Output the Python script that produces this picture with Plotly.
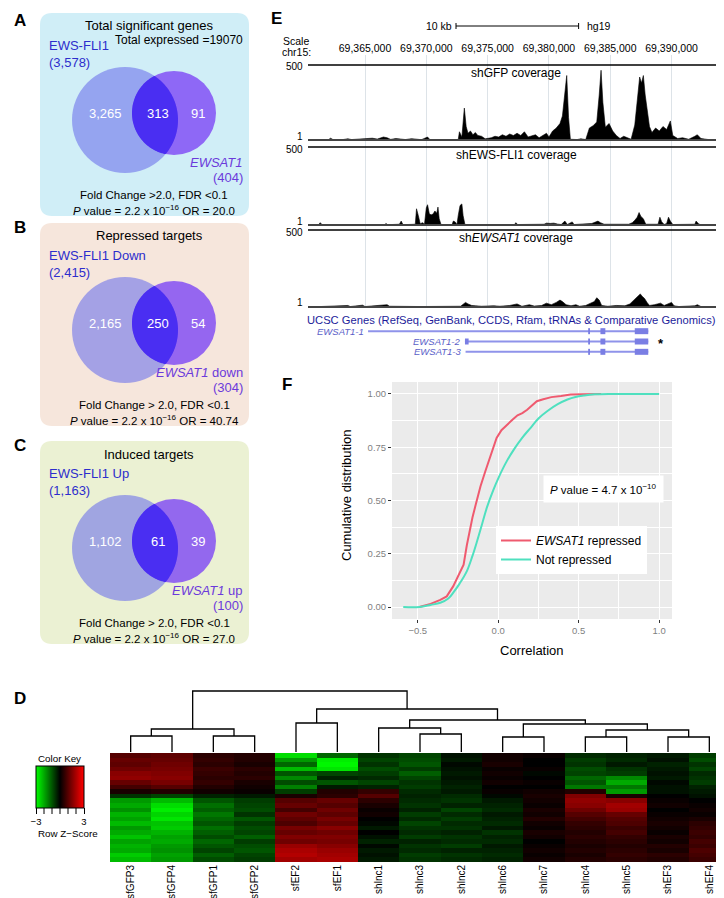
import numpy as np
import plotly.graph_objects as go

W, H = 724, 898
FONT = 'Liberation Sans, Arial, sans-serif'

# =============================================================================
# DATA
# =============================================================================

# --- A-C: Venn panels ---
VENN_TITLES = ['Total significant genes', 'Repressed targets', 'Induced targets']
VENN_LEFT_LABELS = ['EWS-FLI1', 'EWS-FLI1 Down', 'EWS-FLI1 Up']
VENN_LEFT_TOTALS = ['(3,578)', '(2,415)', '(1,163)']
VENN_RIGHT_LABELS = ['<i>EWSAT1</i>', '<i>EWSAT1</i> down', '<i>EWSAT1</i> up']
VENN_RIGHT_TOTALS = ['(404)', '(304)', '(100)']
VENN_ONLY_LEFT = ['3,265', '2,165', '1,102']
VENN_BOTH = ['313', '250', '61']
VENN_ONLY_RIGHT = ['91', '54', '39']
VENN_FC = ['Fold Change >2.0, FDR <0.1', 'Fold Change > 2.0, FDR <0.1',
           'Fold Change > 2.0, FDR <0.1']
VENN_OR = ['20.0', '40.74', '27.0']
VENN_PVAL = '2.2 x 10<sup>−16</sup>'
TOTAL_EXPRESSED = 'Total expressed =19070'

# --- E: coverage tracks (chr15 position in kb, coverage) ---
CHR_TICKS = [69365, 69370, 69375, 69380, 69385, 69390]
CHR_TICK_LABELS = ['69,365,000', '69,370,000', '69,375,000', '69,380,000',
                   '69,385,000', '69,390,000']
CHR_RANGE = [69360.35, 69394.93]
SCALE_START, SCALE_KB = 69372.42, 10

GFP_POS = [69360.4, 69362.0, 69362.2, 69362.4, 69363.2, 69363.6, 69363.9, 69364.5, 69364.8,
           69365.2, 69365.6, 69366.0, 69366.5, 69366.8, 69367.1, 69367.5, 69367.9, 69368.3,
           69368.8, 69369.2, 69369.6, 69370.1, 69370.3, 69372.6, 69372.7, 69372.9, 69373.1,
           69373.25, 69373.4, 69373.6, 69373.8, 69374.0, 69374.2, 69374.5, 69374.8, 69375.3,
           69375.6, 69375.9, 69376.2, 69376.5, 69376.8, 69377.1, 69377.4, 69377.7, 69378.0,
           69378.3, 69378.6, 69378.9, 69379.2, 69379.5, 69379.8, 69380.0, 69380.3, 69380.6,
           69380.9, 69381.1, 69381.3, 69381.45, 69381.6, 69381.75, 69382.3, 69382.6, 69383.0,
           69383.3, 69383.6, 69383.9, 69384.1, 69384.25, 69384.4, 69384.6, 69384.9, 69385.2,
           69385.5, 69385.8, 69386.1, 69386.4, 69386.7, 69387.0, 69387.2, 69387.4, 69387.55,
           69387.7, 69387.85, 69388.0, 69388.2, 69388.4, 69388.7, 69389.0, 69389.3, 69389.6,
           69389.9, 69390.1, 69390.5, 69390.9, 69391.4, 69391.9, 69392.1, 69392.4, 69393.0,
           69394.9]
GFP_COV = [2, 2, 12, 2, 3, 8, 3, 6, 10,
           8, 12, 6, 20, 15, 4, 10, 8, 3,
           9, 6, 2, 20, 2, 2, 55, 20, 213,
           90, 45, 60, 35, 50, 30, 25, 8, 15,
           25, 20, 35, 25, 40, 30, 45, 30, 55,
           20, 25, 35, 15, 30, 45, 20, 60, 80,
           110, 160, 300, 430, 150, 5, 3, 8, 3,
           80, 95, 120, 300, 465, 250, 85, 110, 60,
           30, 10, 25, 15, 5, 100, 260, 420, 380,
           430, 300, 200, 90, 50, 80, 60, 90, 70,
           127, 30, 10, 15, 5, 25, 35, 10, 3,
           2]

EF_POS = [69360.4, 69361.2, 69361.35, 69361.5, 69366.6, 69366.7, 69366.85, 69367.8, 69367.95,
          69368.1, 69369.1, 69369.2, 69369.35, 69369.5, 69369.7, 69369.85, 69370.0, 69370.1,
          69370.25, 69370.4, 69370.55, 69370.7, 69370.85, 69370.95, 69371.05, 69371.2, 69372.1,
          69372.2, 69372.35, 69372.5, 69372.6, 69372.75, 69372.9, 69373.0, 69373.15, 69377.2,
          69377.3, 69377.45, 69379.6, 69379.8, 69380.1, 69380.4, 69380.7, 69381.0, 69381.3,
          69381.5, 69381.9, 69382.05, 69383.5, 69383.8, 69384.0, 69384.2, 69384.5, 69386.5,
          69386.8, 69387.0, 69387.2, 69387.35, 69387.5, 69387.7, 69387.9, 69388.9, 69389.05,
          69389.2, 69389.4, 69389.6, 69389.75, 69389.9, 69390.1, 69391.9, 69392.0, 69392.2,
          69392.4, 69394.9]
EF_COV = [0, 2, 15, 2, 2, 10, 2, 5, 25,
          2, 5, 104, 60, 8, 15, 5, 110, 130,
          70, 65, 70, 90, 75, 115, 40, 3, 2,
          25, 20, 3, 60, 125, 135, 60, 3, 3,
          15, 3, 5, 12, 10, 12, 6, 3, 25,
          3, 20, 3, 10, 20, 25, 15, 5, 5,
          15, 30, 50, 80, 55, 40, 5, 5, 50,
          20, 3, 10, 50, 25, 3, 5, 25, 8,
          0, 0]

AT_POS = [69360.4, 69362.0, 69363.6, 69363.8, 69364.6, 69364.8, 69365.0, 69366.5, 69366.8,
          69367.0, 69367.5, 69368.5, 69369.5, 69372.8, 69373.0, 69373.2, 69373.4, 69373.7,
          69374.0, 69374.5, 69375.5, 69376.0, 69376.8, 69377.4, 69377.8, 69378.4, 69378.8,
          69379.4, 69379.8, 69380.2, 69380.6, 69380.9, 69381.1, 69381.4, 69381.8, 69382.2,
          69382.5, 69383.0, 69383.4, 69383.7, 69383.9, 69384.1, 69384.3, 69384.8, 69385.5,
          69386.2, 69386.6, 69386.9, 69387.1, 69387.3, 69387.45, 69387.6, 69387.8, 69388.0,
          69388.2, 69388.6, 69389.1, 69389.4, 69389.8, 69390.0, 69390.2, 69390.6, 69391.9,
          69392.1, 69392.4, 69394.9]
AT_COV = [0, 3, 10, 3, 8, 12, 3, 10, 15,
          5, 4, 5, 3, 5, 20, 30, 20, 10,
          8, 5, 8, 5, 10, 20, 5, 15, 6,
          10, 25, 15, 30, 45, 35, 15, 8, 15,
          5, 10, 25, 35, 60, 45, 10, 5, 10,
          8, 20, 45, 60, 75, 85, 70, 55, 30,
          10, 15, 25, 10, 25, 30, 8, 3, 8,
          15, 3, 0]

TRACK_NAMES = ['shGFP coverage', 'shEWS-FLI1 coverage', 'sh<i>EWSAT1</i> coverage']

GENE_NAMES = ['EWSAT1-1', 'EWSAT1-2', 'EWSAT1-3']
GENE_START = [69365.25, 69373.15, 69373.2]
GENE_END = [69388.1, 69388.1, 69388.1]
GENE_EXONS = [
    [(69383.2, 69383.35), (69384.2, 69384.6), (69387.0, 69388.1)],
    [(69373.15, 69373.45), (69383.2, 69383.35), (69384.2, 69384.6), (69387.0, 69388.1)],
    [(69383.2, 69383.35), (69384.2, 69384.6), (69387.0, 69388.1)],
]
STAR_POS = 69389.15

# --- F: cumulative distributions ---
REP_X = [-0.49, -0.42, -0.36, -0.32, -0.28, -0.25, -0.215, -0.195, -0.175, -0.16,
         -0.14, -0.11, -0.08, -0.05, -0.01, 0.02, 0.06, 0.09, 0.12, 0.15,
         0.18, 0.21, 0.24, 0.28, 0.33, 0.39, 0.45, 0.52, 0.58, 0.64]
REP_Y = [0.0, 0.015, 0.034, 0.05, 0.097, 0.144, 0.199, 0.29, 0.37, 0.42,
         0.48, 0.567, 0.637, 0.70, 0.793, 0.83, 0.856, 0.88, 0.90, 0.91,
         0.926, 0.945, 0.966, 0.975, 0.985, 0.99, 0.997, 0.999, 1.0, 1.0]
NOT_X = [-0.59, -0.49, -0.42, -0.36, -0.31, -0.277, -0.24, -0.194, -0.16, -0.131,
         -0.1, -0.069, -0.03, 0.004, 0.05, 0.098, 0.15, 0.2, 0.25, 0.306,
         0.37, 0.43, 0.48, 0.535, 0.6, 0.7, 0.85, 1.0]
NOT_Y = [0.0, 0.0, 0.01, 0.02, 0.04, 0.07, 0.11, 0.17, 0.24, 0.31,
         0.39, 0.47, 0.55, 0.61, 0.68, 0.74, 0.795, 0.84, 0.885, 0.92,
         0.952, 0.974, 0.986, 0.993, 0.998, 1.0, 1.0, 1.0]

# --- D: heatmap and dendrogram ---
HEAT_COLS = ['sfGFP3', 'sfGFP4', 'sfGFP1', 'sfGFP2', 'sfEF2', 'sfEF1', 'shlnc1', 'shlnc3',
             'shlnc2', 'shlnc6', 'shlnc7', 'shlnc4', 'shlnc5', 'shEF3', 'shEF4']
HEAT_Z = [
    [1.0, 1.1, 0.5, 0.4, -2.6, -1.2, -0.6, -0.8, -0.2, 0.2, 0.1, -0.5, -0.4, -0.3, -0.7],
    [1.2, 1.2, 0.6, 0.4, -1.8, -2.8, -0.8, -0.9, -0.3, 0.2, 0.0, -0.7, -0.5, -0.2, -0.9],
    [1.1, 1.3, 0.5, 0.3, -1.2, -2.9, -0.6, -1.0, -0.1, 0.3, 0.0, -0.6, -0.3, -0.4, -0.6],
    [1.3, 1.4, 0.7, 0.5, -2.2, -2.7, -0.9, -0.7, -0.2, 0.1, 0.1, -0.9, -0.6, -0.3, -0.8],
    [1.6, 1.5, 0.6, 0.4, -1.0, -0.8, -0.7, -1.1, -0.3, 0.2, -0.1, -0.8, -0.7, -0.2, -0.5],
    [1.7, 1.6, 0.5, 0.5, -1.6, -0.4, -0.5, -0.8, -0.2, 0.1, 0.0, -1.2, -1.6, -0.3, -0.6],
    [1.2, 1.4, 0.6, 0.3, -0.9, -1.0, -0.8, -0.6, -0.3, 0.2, 0.1, -1.0, -2.0, -0.1, -0.7],
    [0.8, 1.0, 0.4, 0.2, -1.5, -0.3, -0.4, -0.7, -0.4, 0.0, 0.0, -1.4, -1.4, -0.2, -0.4],
    [0.3, 0.4, 0.2, 0.1, -0.7, 0.4, 0.6, -0.5, -0.3, 0.1, 0.2, 0.4, -1.8, -0.2, -0.3],
    [-0.6, -0.8, -0.4, -0.3, 0.3, 0.5, 1.0, -0.4, -0.5, -0.1, 0.3, 1.5, 0.3, 0.0, -0.2],
    [-1.8, -2.2, -1.0, -0.7, 1.0, 1.2, 0.5, -0.5, -0.6, -0.3, 0.2, 1.7, 1.6, 0.1, 0.0],
    [-2.0, -2.6, -1.3, -0.8, 1.2, 1.0, 0.3, -0.6, -0.4, -0.4, 0.1, 1.6, 1.9, 0.2, 0.1],
    [-1.7, -2.8, -1.1, -0.9, 0.8, 1.3, 0.1, -0.4, -0.8, -0.5, 0.3, 1.3, 1.8, 0.0, 0.2],
    [-2.1, -2.5, -1.4, -0.6, 1.3, 1.1, 0.2, -0.7, -0.5, -0.3, 0.2, 1.0, 1.2, 0.1, 0.1],
    [-1.9, -2.7, -1.2, -1.0, 1.1, 1.4, 0.0, -0.5, -0.7, -0.4, 0.4, 0.8, 1.0, 0.2, 0.3],
    [-2.2, -2.3, -1.0, -0.7, 0.9, 1.2, -0.1, -0.8, -0.5, -0.5, 0.2, 0.6, 0.9, 0.3, 0.5],
    [-1.8, -2.4, -1.3, -0.9, 1.4, 1.6, -0.3, -0.6, -0.6, -0.3, 0.1, 0.5, 0.7, 0.2, 0.6],
    [-2.0, -2.1, -1.1, -0.8, 1.2, 1.3, 0.0, -0.5, -0.4, -0.6, 0.3, 0.4, 0.8, 0.1, 0.7],
    [-2.3, -1.9, -0.9, -1.1, 1.5, 1.5, -0.2, -0.7, -0.6, -0.4, 0.2, 0.5, 0.6, 0.3, 0.6],
    [-1.9, -2.0, -1.2, -0.7, 1.3, 1.4, -0.4, -0.4, -0.5, -0.5, 0.0, 0.4, 0.5, 0.2, 0.8],
    [-2.1, -1.8, -1.0, -0.9, 1.8, 1.6, -0.1, -0.6, -0.7, -0.3, 0.1, 0.3, 0.4, 0.4, 0.7],
    [-2.0, -1.7, -0.8, -1.0, 2.0, 1.8, -0.3, -0.5, -0.4, -0.4, 0.2, 0.4, 0.5, 0.3, 0.9],
    [-2.4, -1.9, -1.1, -0.8, 2.1, 1.9, -0.2, -0.7, -0.6, -0.5, 0.1, 0.3, 0.6, 0.5, 0.8],
    [-2.2, -1.8, -0.9, -0.7, 1.9, 2.0, -0.3, -0.6, -0.5, -0.4, 0.2, 0.4, 0.5, 0.4, 0.7],
]
KEY_TICKS = [-3, -2, -1, 0, 1, 2, 3]
# merges: (left, right, height); 'mK' refers to merge K
DENDRO_MERGES = [
    ('sfGFP3', 'sfGFP4', 16), ('sfGFP1', 'sfGFP2', 16), ('m0', 'm1', 23),
    ('sfEF2', 'sfEF1', 29), ('shlnc3', 'shlnc2', 18), ('shlnc1', 'm4', 24),
    ('shlnc6', 'shlnc7', 15), ('shlnc4', 'shlnc5', 15), ('shEF3', 'shEF4', 15),
    ('m7', 'm8', 22), ('m6', 'm9', 28), ('m5', 'm10', 32), ('m3', 'm11', 43),
    ('m2', 'm12', 61),
]


# =============================================================================
# HELPERS (pixel -> paper)
# =============================================================================

def px(x):
    return x / W


def py(y):
    return 1 - y / H


def xdom(left, right):
    return [px(left), px(right)]


def ydom(top, bottom):
    return [py(bottom), py(top)]


shapes = []
annotations = []


def label(x, y, text, size=12, color='black', xanchor='center', **kw):
    annotations.append(dict(
        x=px(x), y=py(y), xref='paper', yref='paper', text=text, showarrow=False,
        xanchor=xanchor, yanchor='middle', font=dict(family=FONT, size=size, color=color), **kw
    ))


def paper_line(x0, y0, x1, y1, color='black', width=1):
    shapes.append(dict(type='line', xref='paper', yref='paper', x0=px(x0), y0=py(y0),
                       x1=px(x1), y1=py(y1), line=dict(color=color, width=width)))


def rounded_box(x0, y0, x1, y1, r, color):
    pts = (f"M {px(x0 + r)},{py(y0)} L {px(x1 - r)},{py(y0)} Q {px(x1)},{py(y0)} {px(x1)},{py(y0 + r)} "
           f"L {px(x1)},{py(y1 - r)} Q {px(x1)},{py(y1)} {px(x1 - r)},{py(y1)} "
           f"L {px(x0 + r)},{py(y1)} Q {px(x0)},{py(y1)} {px(x0)},{py(y1 - r)} "
           f"L {px(x0)},{py(y0 + r)} Q {px(x0)},{py(y0)} {px(x0 + r)},{py(y0)} Z")
    shapes.append(dict(type='path', xref='paper', yref='paper', path=pts,
                       fillcolor=color, line=dict(width=0), layer='below'))


def circle(cx, cy, r, color):
    shapes.append(dict(type='circle', xref='paper', yref='paper', x0=px(cx - r), x1=px(cx + r),
                       y0=py(cy + r), y1=py(cy - r), fillcolor=color, line=dict(width=0),
                       layer='below'))


def lens(c1, r1, c2, r2, color):
    t = np.linspace(0, 2 * np.pi, 361)
    pts = []
    for (ca, ra, cb, rb) in [(c1, r1, c2, r2), (c2, r2, c1, r1)]:
        xs = ca[0] + ra * np.cos(t)
        ys = ca[1] + ra * np.sin(t)
        inside = (xs - cb[0]) ** 2 + (ys - cb[1]) ** 2 <= rb ** 2
        pts += list(zip(xs[inside], ys[inside]))
    pts = np.array(pts)
    cen = pts.mean(axis=0)
    order = np.argsort(np.arctan2(pts[:, 1] - cen[1], pts[:, 0] - cen[0]))
    pts = pts[order]
    path = 'M ' + ' L '.join(f"{px(a)},{py(b)}" for a, b in pts) + ' Z'
    shapes.append(dict(type='path', xref='paper', yref='paper', path=path,
                       fillcolor=color, line=dict(width=0), layer='below'))


fig = go.Figure()

# =============================================================================
# A-C: VENN PANELS
# =============================================================================
BOX_TOPS = [5, 215, 433]
BOX_COLORS = ['#d0eef7', '#f6e6dc', '#ebf1d3']
PANEL_LETTERS = ['A', 'B', 'C']
BLUE = '#2d2dcc'
PURPLE = '#6b3adb'

for i, t in enumerate(BOX_TOPS):
    rounded_box(32, t, 241, t + 203, 12, BOX_COLORS[i])
    label(12, t + 8 if i == 0 else t + 4, f'<b>{PANEL_LETTERS[i]}</b>', size=17)
    big_c, big_r = (117, t + 107), 53
    small_c, small_r = (166, t + 100), 42
    circle(big_c[0], big_c[1], big_r, 'rgba(110,115,235,0.6)')
    circle(small_c[0], small_c[1], small_r, 'rgba(125,70,245,0.8)')
    lens(big_c, big_r, small_c, small_r, '#4a2ef2')

    label(141, t + 13, VENN_TITLES[i], size=13)
    if i == 0:
        label(237, t + 27, TOTAL_EXPRESSED, size=12, xanchor='right')
    label(39, t + 32, VENN_LEFT_LABELS[i], size=13, color=BLUE, xanchor='left')
    label(39, t + 49, VENN_LEFT_TOTALS[i], size=13, color=BLUE, xanchor='left')
    label(98, t + 100, VENN_ONLY_LEFT[i], size=13, color='white')
    label(150, t + 100, VENN_BOTH[i], size=13, color='white')
    label(190, t + 100, VENN_ONLY_RIGHT[i], size=13, color='white')
    label(237, t + 149, VENN_RIGHT_LABELS[i], size=13, color=PURPLE, xanchor='right')
    label(237, t + 164, VENN_RIGHT_TOTALS[i], size=13, color=PURPLE, xanchor='right')
    label(146, t + 182, VENN_FC[i], size=11.5)
    label(146, t + 197, f'<i>P</i> value = {VENN_PVAL} OR = {VENN_OR[i]}', size=11.5)

# =============================================================================
# E: GENOME BROWSER TRACKS
# =============================================================================
label(268, 10, '<b>E</b>', size=17)
label(446, 18, '10 kb', size=10.5, xanchor='right')
shapes.append(dict(type='line', xref='x', yref='paper', x0=SCALE_START, x1=SCALE_START + SCALE_KB,
                   y0=py(18), y1=py(18), line=dict(color='black', width=1)))
for xe in (SCALE_START, SCALE_START + SCALE_KB):
    shapes.append(dict(type='line', xref='x', yref='paper', x0=xe, x1=xe,
                       y0=py(15), y1=py(21), line=dict(color='black', width=1)))
label(577, 18, 'hg19', size=10.5, xanchor='left')
label(288, 33, 'Scale', size=10.5)
label(288, 44, 'chr15:', size=10.5)

# helper subplot: grid lines and coordinate labels
fig.add_trace(go.Scatter(x=[CHR_RANGE[0]], y=[0], mode='markers', marker=dict(opacity=0),
                         xaxis='x', yaxis='y', showlegend=False, hoverinfo='skip'))

TRACKS = [(GFP_POS, GFP_COV, 57, 132), (EF_POS, EF_COV, 139, 217), (AT_POS, AT_COV, 222, 299)]
for k, (pos, cov, top, base) in enumerate(TRACKS):
    yname = f'y{k + 2}'
    fig.add_trace(go.Scatter(
        x=pos, y=cov, mode='lines', fill='tozeroy', fillcolor='black',
        line=dict(color='black', width=0.6), xaxis='x', yaxis=yname,
        showlegend=False, hoverinfo='skip'
    ))
    paper_line(300, top, 724, top, color='black', width=1.3)
    paper_line(300, base, 724, base, color='#444444', width=2)
    label(297, top + 2, '500', size=10, xanchor='right')
    label(297, base - 4, '1', size=10, xanchor='right')
    label(508, top + 8, TRACK_NAMES[k], size=12)

# gene track
label(297, 312, 'UCSC Genes (RefSeq, GenBank, CCDS, Rfam, tRNAs &amp; Comparative Genomics)',
      size=11.2, color='#1c1c9a', xanchor='left')
for g, name in enumerate(GENE_NAMES):
    fig.add_trace(go.Scatter(
        x=[GENE_START[g], GENE_END[g]], y=[g + 1, g + 1], mode='lines',
        line=dict(color='#8f93ea', width=2), xaxis='x2', yaxis='y5',
        showlegend=False, hoverinfo='skip'
    ))
    ex, ey = [], []
    for a, b in GENE_EXONS[g]:
        ex += [a, b, None]
        ey += [g + 1, g + 1, None]
    fig.add_trace(go.Scatter(
        x=ex, y=ey, mode='lines', line=dict(color='#7a7ee4', width=6),
        xaxis='x2', yaxis='y5', showlegend=False, hoverinfo='skip'
    ))
    annotations.append(dict(x=GENE_START[g], y=g + 1, xref='x2', yref='y5',
                            text=f'<i>{name}</i>', showarrow=False, xanchor='right',
                            yanchor='middle', xshift=-3, borderpad=0,
                            font=dict(family=FONT, size=9.5, color='#5a5ec8')))
annotations.append(dict(x=STAR_POS, y=2, xref='x2', yref='y5', text='<b>*</b>', showarrow=False,
                        yshift=-2, font=dict(family=FONT, size=13, color='black')))

# =============================================================================
# F: CUMULATIVE DISTRIBUTION
# =============================================================================
label(279, 376, '<b>F</b>', size=17)
shapes.append(dict(type='rect', xref='x3 domain', yref='y6 domain', x0=0, x1=1, y0=0, y1=1,
                   fillcolor='#ebebeb', line=dict(width=0), layer='below'))
fig.add_trace(go.Scatter(
    x=REP_X, y=REP_Y, mode='lines', name='<i>EWSAT1</i> repressed',
    line=dict(color='#ef5a6f', width=2), xaxis='x3', yaxis='y6'
))
fig.add_trace(go.Scatter(
    x=NOT_X, y=NOT_Y, mode='lines', name='Not repressed', line_shape='spline',
    line=dict(color='#4fe0bf', width=2), xaxis='x3', yaxis='y6'
))
label(338, 487, 'Cumulative distribution', size=13, textangle=-90)
label(524, 642, 'Correlation', size=13)
annotations.append(dict(x=px(595), y=py(481), xref='paper', yref='paper', xanchor='center',
                        yanchor='middle', text='<i>P</i> value = 4.7 x 10<sup>−10</sup>',
                        showarrow=False, bgcolor='white', borderpad=6,
                        font=dict(family=FONT, size=11.5, color='black')))

# =============================================================================
# D: HEATMAP + DENDROGRAM
# =============================================================================
label(12, 690, '<b>D</b>', size=17)
KEY_X0, KEY_W, KEY_TOP, KEY_H = 28, 48, 758, 42
fig.add_trace(go.Heatmap(
    z=HEAT_Z, x=HEAT_COLS, y=list(range(len(HEAT_Z))), xaxis='x4', yaxis='y7',
    zmin=-3, zmax=3, colorscale=[[0, '#00ff00'], [0.5, '#000000'], [1, '#ff0000']],
    hoverinfo='skip',
    colorbar=dict(
        orientation='h', x=px(KEY_X0), xanchor='left', y=py(KEY_TOP), yanchor='top',
        len=KEY_W, lenmode='pixels', thickness=KEY_H, thicknessmode='pixels',
        xpad=0, ypad=0, outlinewidth=1, outlinecolor='black',
        tickvals=[KEY_TICKS[0], KEY_TICKS[-1]], ticktext=['−3', '3'],
        tickangle=0, ticks='outside', ticklen=6, tickcolor='black',
        tickfont=dict(family=FONT, size=9.5, color='black')
    )
))
# intermediate colour-key tick marks
for v in KEY_TICKS[1:-1]:
    xk = KEY_X0 + (v - KEY_TICKS[0]) / (KEY_TICKS[-1] - KEY_TICKS[0]) * KEY_W
    paper_line(xk, KEY_TOP + KEY_H, xk, KEY_TOP + KEY_H + 6, color='black', width=1)
label(28, 750, 'Color Key', size=9.8, xanchor='left')
label(28, 825, 'Row Z−Score', size=9.8, xanchor='left')

leaf_pos = {name: i for i, name in enumerate(HEAT_COLS)}
leaf_h = {name: 0 for name in HEAT_COLS}
dx, dy = [], []
for k, (a, b, h) in enumerate(DENDRO_MERGES):
    xa, xb = leaf_pos[a], leaf_pos[b]
    dx += [xa, xa, xb, xb, None]
    dy += [leaf_h[a], h, h, leaf_h[b], None]
    leaf_pos[f'm{k}'] = (xa + xb) / 2
    leaf_h[f'm{k}'] = h
fig.add_trace(go.Scatter(x=dx, y=dy, mode='lines', line=dict(color='black', width=1.3),
                         xaxis='x5', yaxis='y8', showlegend=False, hoverinfo='skip'))

# =============================================================================
# LAYOUT
# =============================================================================
hidden = dict(visible=False, showgrid=False, zeroline=False)
tick_font = dict(family=FONT, size=9.5, color='#7f7f7f')

fig.update_layout(
    width=W, height=H, margin=dict(l=0, r=0, t=0, b=0),
    paper_bgcolor='white', plot_bgcolor='rgba(0,0,0,0)',
    font=dict(family=FONT, color='black'),
    shapes=shapes, annotations=annotations,
    showlegend=True,
    legend=dict(x=px(488), y=py(518), xanchor='left', yanchor='top', bgcolor='white',
                font=dict(family=FONT, size=12), itemwidth=30, tracegroupgap=2),
    xaxis=dict(domain=xdom(300, 724), range=CHR_RANGE, anchor='y', side='top',
               tickvals=CHR_TICKS, ticktext=CHR_TICK_LABELS, ticks='',
               tickfont=dict(family=FONT, size=10.5, color='black'),
               showgrid=True, gridcolor='#dde3e8', gridwidth=1, zeroline=False,
               showline=False, fixedrange=True),
    yaxis=dict(domain=ydom(47, 299), range=[0, 1], **hidden),
    yaxis2=dict(domain=ydom(57, 132), range=[0, 500], anchor='x', **hidden),
    yaxis3=dict(domain=ydom(139, 217), range=[0, 500], anchor='x', **hidden),
    yaxis4=dict(domain=ydom(222, 299), range=[0, 500], anchor='x', **hidden),
    xaxis2=dict(domain=xdom(300, 724), range=CHR_RANGE, anchor='y5', **hidden),
    yaxis5=dict(domain=ydom(318, 349), range=[3.5, 0.5], anchor='x2', **hidden),
    xaxis3=dict(domain=xdom(384, 664), range=[-0.66, 1.08], anchor='y6',
                tickvals=[-0.5, 0.0, 0.5, 1.0], ticktext=['−0.5', '0.0', '0.5', '1.0'],
                ticks='outside', ticklen=3, tickcolor='#333333', tickfont=tick_font,
                showgrid=True, gridcolor='white', gridwidth=1.2, zeroline=False,
                minor=dict(tickvals=[-0.25, 0.25, 0.75], showgrid=True,
                           gridcolor='white', gridwidth=0.6)),
    yaxis6=dict(domain=ydom(374, 611), range=[-0.056, 1.056], anchor='x3',
                tickvals=[0, 0.25, 0.5, 0.75, 1.0],
                ticktext=['0.00', '0.25', '0.50', '0.75', '1.00'],
                ticks='outside', ticklen=3, tickcolor='#333333', tickfont=tick_font,
                showgrid=True, gridcolor='white', gridwidth=1.2, zeroline=False,
                minor=dict(tickvals=[0.125, 0.375, 0.625, 0.875], showgrid=True,
                           gridcolor='white', gridwidth=0.6)),
    xaxis4=dict(domain=xdom(102, 722), anchor='y7', tickangle=-90, ticks='', ticklen=0,
                tickfont=dict(family=FONT, size=10, color='black'),
                showgrid=False, zeroline=False),
    yaxis7=dict(domain=ydom(745, 854), anchor='x4', autorange='reversed', **hidden),
    xaxis5=dict(domain=xdom(102, 722), range=[-0.5, len(HEAT_COLS) - 0.5], anchor='y8', **hidden),
    yaxis8=dict(domain=ydom(682, 744), range=[0, 62], anchor='x5', **hidden),
)

fig.write_html('out.html')
